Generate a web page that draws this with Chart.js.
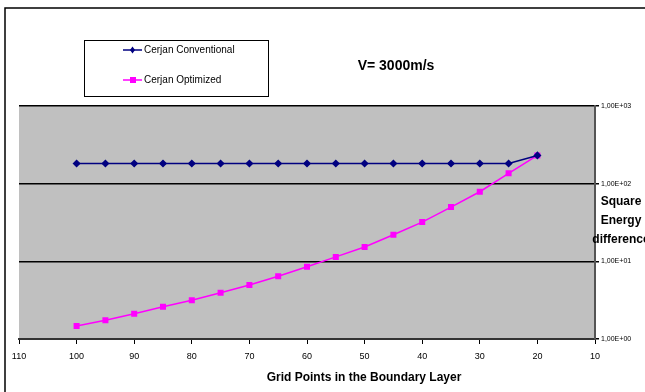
<!DOCTYPE html>
<html>
<head>
<meta charset="utf-8">
<script src="https://cdn.jsdelivr.net/npm/chart.js@4"></script>
<style>
  html, body { margin: 0; padding: 0; background: #fff; }
  #wrap { width: 645px; height: 392px; position: relative; }
</style>
</head>
<body>
<div id="wrap"><canvas id="grafico" width="645" height="392"></canvas></div>
<script>
// datos
const gridPoints = [100, 95, 90, 85, 80, 75, 70, 65, 60, 55, 50, 45, 40, 35, 30, 25, 20];
const conventional = [182, 182, 182, 182, 182, 182, 182, 182, 182, 182, 182, 182, 182, 182, 182, 182, 231];
const optimized = [1.47, 1.74, 2.12, 2.6, 3.15, 3.94, 4.95, 6.41, 8.5, 11.4, 15.3, 22, 32, 50, 78.7, 136, 231];
const yTicks = [1, 10, 100, 1000];
const seriesNames = ['Cerjan Conventional', 'Cerjan Optimized'];

const canvas = document.querySelector('#grafico');
const FONT = 'Arial, "Liberation Sans", sans-serif';

const toPoints = (vals) => gridPoints.map((g, i) => ({ x: g, y: vals[i] }));

// fondo gris del area, marco y textos extra
const extras = {
    id: 'extras',
    beforeDraw(chart) {
        const { ctx, chartArea: a } = chart;
        ctx.save();
        ctx.fillStyle = '#c0c0c0';
        ctx.fillRect(a.left, a.top, a.right - a.left, a.bottom - a.top);
        ctx.restore();
    },
    afterDraw(chart) {
        const { ctx } = chart;
        ctx.save();
        // marco exterior
        ctx.strokeStyle = '#000';
        ctx.lineWidth = 1.5;
        ctx.beginPath();
        ctx.moveTo(5, 400);
        ctx.lineTo(5, 8);
        ctx.lineTo(650, 8);
        ctx.stroke();

        // leyenda
        ctx.lineWidth = 1;
        ctx.strokeStyle = '#000';
        ctx.strokeRect(84.5, 40.5, 184, 56);
        const ds = chart.data.datasets;
        [50, 80].forEach((y, i) => {
            const d = ds[i];
            ctx.strokeStyle = d.borderColor;
            ctx.lineWidth = 1.5;
            ctx.beginPath();
            ctx.moveTo(123, y);
            ctx.lineTo(142, y);
            ctx.stroke();
            ctx.fillStyle = d.pointBackgroundColor;
            if (i === 0) {
                ctx.beginPath();
                ctx.moveTo(132.5, y - 3.5);
                ctx.lineTo(135, y);
                ctx.lineTo(132.5, y + 3.5);
                ctx.lineTo(130, y);
                ctx.closePath();
                ctx.fill();
            } else {
                ctx.fillRect(130, y - 3, 6, 6);
            }
            ctx.fillStyle = '#000';
            ctx.font = '10px ' + FONT;
            ctx.textBaseline = 'middle';
            ctx.textAlign = 'left';
            ctx.fillText(seriesNames[i], 144, y);
        });

        // titulo
        ctx.font = 'bold 14px ' + FONT;
        ctx.textAlign = 'center';
        ctx.textBaseline = 'middle';
        ctx.fillText('V= 3000m/s', 396, 66);

        // titulo eje x
        ctx.font = 'bold 12px ' + FONT;
        ctx.fillText('Grid Points in the Boundary Layer', 364, 378);

        // titulo eje y
        ['Square', 'Energy', 'difference'].forEach((t, i) => {
            ctx.fillText(t, 621, 202 + i * 19);
        });
        ctx.restore();
    }
};

const data = {
    datasets: [
        {
            label: seriesNames[0],
            data: toPoints(conventional),
            borderColor: '#000080',
            backgroundColor: '#000080',
            pointBackgroundColor: '#000080',
            pointBorderColor: '#000080',
            pointStyle: 'rectRot',
            pointRadius: 3,
            borderWidth: 1.5
        },
        {
            label: seriesNames[1],
            data: toPoints(optimized),
            borderColor: '#ff00ff',
            backgroundColor: '#ff00ff',
            pointBackgroundColor: '#ff00ff',
            pointBorderColor: '#ff00ff',
            pointStyle: 'rect',
            pointRadius: 3.2,
            borderWidth: 1.5
        }
    ]
};

const config = {
    type: 'line',
    data: data,
    plugins: [extras],
    options: {
        responsive: false,
        animation: false,
        layout: { padding: { top: 106, left: 19, right: 0, bottom: 0 } },
        plugins: {
            legend: { display: false },
            title: { display: false },
            tooltip: { enabled: false }
        },
        scales: {
            x: {
                type: 'linear',
                reverse: true,
                min: 10,
                max: 110,
                ticks: {
                    stepSize: 10,
                    color: '#000',
                    font: { family: FONT, size: 9 },
                    maxRotation: 0,
                    padding: 7
                },
                grid: {
                    drawOnChartArea: false,
                    color: '#000',
                    tickLength: 5,
                    tickColor: '#000'
                },
                border: { color: '#333', width: 2 },
                afterFit: (s) => { s.height = 53; }
            },
            y: {
                type: 'logarithmic',
                position: 'right',
                min: 1,
                max: 1000,
                afterBuildTicks: (axis) => {
                    axis.ticks = yTicks.map(v => ({ value: v }));
                },
                ticks: {
                    color: '#000',
                    font: { family: FONT, size: 7 },
                    padding: 2,
                    callback: (v) => v.toExponential(2).replace('.', ',')
                        .replace(/e([+-])(\d)$/, 'E$10$2')
                },
                grid: {
                    color: '#000',
                    lineWidth: 1.5,
                    tickLength: 4,
                    tickColor: '#000'
                },
                border: { color: '#555', width: 2 },
                afterFit: (s) => { s.width = 50; }
            }
        }
    }
};

new Chart(canvas, config);
</script>
</body>
</html>
